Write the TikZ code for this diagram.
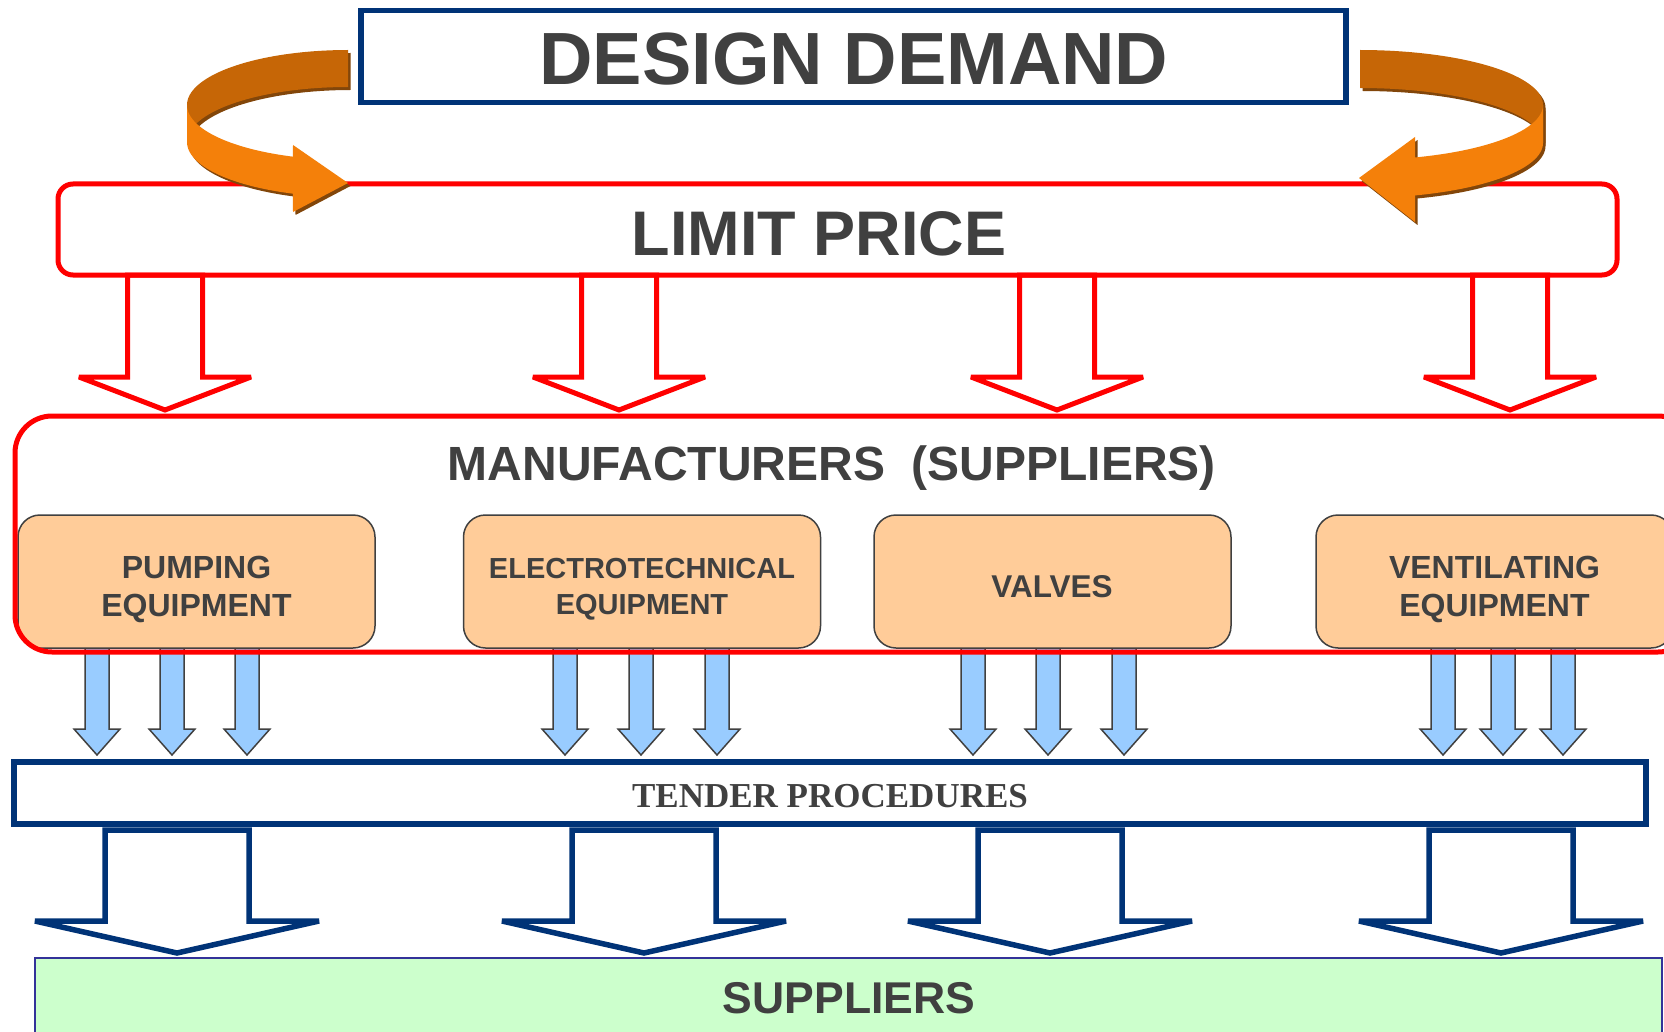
\documentclass[tikz,border=0pt]{standalone}
\usepackage{fontspec}
\setmainfont{Liberation Sans}
\newfontfamily\tenderfont{Liberation Serif}
\definecolor{navy}{RGB}{0,51,119}
\definecolor{tgray}{RGB}{64,64,64}
\definecolor{peach}{RGB}{255,204,153}
\definecolor{skyb}{RGB}{153,204,255}
\definecolor{mint}{RGB}{204,255,204}
\definecolor{supb}{RGB}{51,51,153}
\definecolor{odark}{RGB}{198,102,6}
\definecolor{obright}{RGB}{244,128,10}
\definecolor{oshadow}{RGB}{130,70,10}
\definecolor{olight}{RGB}{250,180,110}
% block arrow: style, cx, ytop, yshoulder, ytip, half shaft, half head
\newcommand\blockarr[7]{%
  \draw[#1] (#2-#6,#3) -- (#2-#6,#4) -- (#2-#7,#4) -- (#2,#5) -- (#2+#7,#4) -- (#2+#6,#4) -- (#2+#6,#3) -- cycle;}
\newcommand\orangeL[2]{%
  \fill[#1] plot[domain=270:180,samples=40,variable=\t] ({348+161*cos(\t)},{105+55*sin(\t)})
     -- plot[domain=180:270,samples=40,variable=\t] ({348+161*cos(\t)},{142+55*sin(\t)}) -- cycle;
  \fill[#2] plot[domain=180:110,samples=40,variable=\t] ({348+161*cos(\t)},{105+55*sin(\t)})
     -- (293,145) -- (348,183) -- (293,212)
     -- plot[domain=110:180,samples=40,variable=\t] ({348+161*cos(\t)},{142+55*sin(\t)}) -- cycle;}
\newcommand\orangeR[2]{%
  \fill[#1] plot[domain=270:360,samples=40,variable=\t] ({1360+183*cos(\t)},{105+55*sin(\t)})
     -- plot[domain=360:270,samples=40,variable=\t] ({1360+183*cos(\t)},{143+55*sin(\t)}) -- cycle;
  \fill[#2] plot[domain=0:72.5,samples=40,variable=\t] ({1360+183*cos(\t)},{105+55*sin(\t)})
     -- (1415,137) -- (1359,178) -- (1415,222)
     -- plot[domain=72.5:0,samples=40,variable=\t] ({1360+183*cos(\t)},{143+55*sin(\t)}) -- cycle;}
\tikzset{
  redbox/.style={draw=red, line width=5pt, inner sep=0pt},
  navybox/.style={draw=navy, line width=5.5pt, inner sep=0pt},
  catbox/.style={draw=tgray, line width=1.5pt, fill=peach, rounded corners=22pt, inner sep=0pt,
     minimum width=357pt, minimum height=133pt},
  redarr/.style={draw=red, line width=5pt, line join=miter, miter limit=2},
  navyarr/.style={draw=navy, line width=5.5pt, line join=miter, miter limit=2},
  bluearr/.style={draw=tgray, fill=skyb, line width=1.5pt, line join=miter},
  lbl/.style={text=tgray, inner sep=0pt, align=center},
}
\begin{document}
\begin{tikzpicture}[x=1pt,y=-1pt]
\useasboundingbox (0,0) rectangle (1664,1032);
\clip (0,0) rectangle (1664,1032);
\fill[white] (0,0) rectangle (1664,1032);

% top boxes
\node[navybox, minimum width=985pt, minimum height=92pt] (demand) at (853.5,56.5) {};
\node[lbl, font=\fontsize{74}{80}\selectfont\bfseries] (demandtxt) at (854,59.5) {DESIGN DEMAND};
\node[redbox, rounded corners=15pt, minimum width=1559pt, minimum height=91pt] (limit) at (837.5,229.5) {};
\node[lbl, font=\fontsize{63}{70}\selectfont\bfseries] (limittxt) at (819,234) {LIMIT PRICE};

% orange curved arrows
\begin{scope}[shift={(2.5,3)}]
  \orangeL{oshadow}{oshadow}
  \orangeR{oshadow}{oshadow}
\end{scope}
\orangeL{odark}{obright}
\orangeR{odark}{obright}

% red block arrows
\foreach \cx in {165,619,1057,1510}
  {\blockarr{redarr}{\cx}{275}{377}{410}{37.5}{86}}

% blue small arrows
\foreach \cx in {97,172,247, 565,641,717, 973,1048,1124, 1443,1503,1563}
  {\blockarr{bluearr}{\cx}{640}{729}{755}{12}{23}}

% category boxes
\node[catbox] (pump) at (196.5,581.5) {};
\node[catbox] (elec) at (642,581.5) {};
\node[catbox] (valv) at (1052.5,581.5) {};
\node[catbox] (vent) at (1494.5,581.5) {};
\node[lbl, font=\fontsize{32}{38}\selectfont\bfseries] (pumptxt) at (196.5,589) {PUMPING\\EQUIPMENT};
\node[lbl, font=\fontsize{29}{36}\selectfont\bfseries] (electxt) at (642,589) {ELECTROTECHNICAL\\EQUIPMENT};
\node[lbl, font=\fontsize{31.5}{38}\selectfont\bfseries] (valvtxt) at (1052,587) {VALVES};
\node[lbl, font=\fontsize{32}{38}\selectfont\bfseries] (venttxt) at (1494.5,589) {VENTILATING\\EQUIPMENT};

% manufacturers box
\node[redbox, rounded corners=37pt, minimum width=1680pt, minimum height=236pt] (manuf) at (855,534) {};
\node[lbl, font=\fontsize{48}{54}\selectfont\bfseries] (manuftxt) at (832,468.5) {MANUFACTURERS\ \ (SUPPLIERS)};

% tender
\node[navybox, minimum width=1632pt, minimum height=62pt] (tender) at (830,793) {};
\node[lbl, font=\fontsize{35}{40}\selectfont\tenderfont\bfseries] (tendertxt) at (830,796) {TENDER PROCEDURES};

% navy block arrows
\foreach \cx in {177,644,1050,1501}
  {\blockarr{navyarr}{\cx}{830}{921}{953}{72}{142}}

% suppliers
\node[draw=supb, line width=2pt, fill=mint, minimum width=1627pt, minimum height=100pt, inner sep=0pt] (supp) at (848.5,1008) {};
\node[lbl, font=\fontsize{44.5}{50}\selectfont\bfseries] (supptxt) at (849,998.5) {SUPPLIERS};
\end{tikzpicture}
\end{document}
